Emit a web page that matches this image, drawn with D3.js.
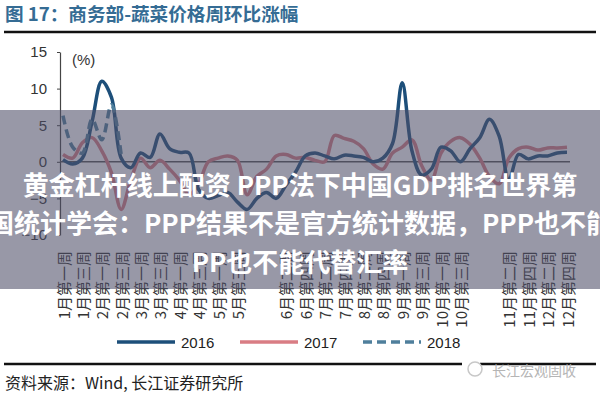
<!DOCTYPE html>
<html><head><meta charset="utf-8">
<script src="https://cdn.jsdelivr.net/npm/d3@7"></script>
<style>body{margin:0;background:#fff} svg{display:block}</style>
</head><body><svg id="c" width="600" height="400"></svg>
<script>
// ---- data ----
const titleText = "图 17：商务部-蔬菜价格周环比涨幅";
const sourceText = "资料来源：Wind, 长江证券研究所";
const watermarkText = "长江宏观固收";
const seriesNames = ["2016", "2017", "2018"];
const weekCount = 53;
const tickIdx = [0,2,4,6,8,10,12,14,16,18, 23,25,27,29,31,33,35,37,39,41, 46,48,50,52];
const tickLabels = ["1月第一周","1月第三周","2月第一周","2月第三周","3月第一周","3月第三周","4月第一周","4月第三周","5月第一周","5月第三周",
  "6月第二周","6月第四周","7月第二周","7月第四周","8月第二周","8月第四周","9月第一周","9月第三周","10月第一周","10月第三周",
  "11月第二周","11月第四周","12月第二周","12月第四周"];
const yTicks = [15, 10, 5, 0, -5, -10];
const s2016 = [0.3,-0.3,0.5,5.5,11.0,8.8,0.5,-0.8,1.2,0.6,3.8,1.8,1.3,1.2,-3.8,-5.0,-4.6,-4.2,-5.5,-6.5,-5.0,-4.2,-5.0,-3.2,-1.4,0.8,1.2,0.8,0.4,0.9,0.8,0.6,0.0,0.5,2.5,10.8,1.5,-1.8,-1.0,2.0,1.5,0.0,1.8,3.3,5.8,3.5,-2.5,1.0,0.4,0.8,0.8,1.2,1.3];
const s2017 = [1.0,0.5,2.6,3.3,1.5,-1.5,-6.5,-2.5,0.5,-0.8,0.2,-1.0,-2.5,-4.5,-3.0,0.0,0.5,0.8,0.2,-4.5,-2.0,-1.0,0.8,1.0,0.5,0.6,0.2,0.0,3.6,3.2,2.8,1.8,-0.3,-1.0,1.2,2.0,3.0,-0.5,-2.5,1.2,2.8,3.3,2.4,0.5,-2.0,-3.0,0.5,1.8,2.0,1.6,1.9,1.9,2.0];
const s2018 = [6.3,2.0,1.2,5.8,3.0,7.8,1.0];
const bannerLines = ["黄金杠杆线上配资 PPP法下中国GDP排名世界第", "国统计学会：PPP结果不是官方统计数据，PPP也不能", "PP也不能代替汇率"];

// ---- chart ----
const svg = d3.select("#c");
const font = "'Liberation Sans', Arial, 'Noto Sans CJK SC', sans-serif";
const cjk = "'Noto Sans CJK SC', sans-serif";
const colors = {"2016": "#1d4f7a", "2017": "#d97d84", "2018": "#4f7f9c"};

svg.append("text").attr("x", 5).attr("y", 21).text(titleText)
  .attr("font-family", cjk).attr("font-size", 18.6).attr("font-weight", "bold").attr("fill", "#356c94");
svg.append("line").attr("x1", 4).attr("x2", 596).attr("y1", 32).attr("y2", 32).attr("stroke", "#111").attr("stroke-width", 2.5);

const x = d3.scalePoint().domain(d3.range(weekCount)).range([63, 567]);
const y = d3.scaleLinear().domain([-10, 15]).range([235, 52]);

const yAxis = svg.append("g").attr("transform", "translate(60,0)")
  .call(d3.axisLeft(y).tickValues(yTicks).tickSize(3).tickPadding(10).tickSizeOuter(0));
yAxis.select(".domain").attr("stroke", "#444").attr("stroke-width", 1.2);
yAxis.selectAll(".tick line").attr("stroke", "#444");
yAxis.selectAll(".tick text").attr("font-family", font).attr("font-size", 15).attr("fill", "#333");

svg.append("text").attr("x", 72).attr("y", 65).text("(%)")
  .attr("font-family", font).attr("font-size", 15).attr("fill", "#333");

svg.append("line").attr("x1", 60).attr("x2", 570).attr("y1", y(0)).attr("y2", y(0))
  .attr("stroke", "#555").attr("stroke-width", 1.5);

const xg = svg.append("g");
xg.selectAll("text").data(tickIdx).join("text")
  .attr("transform", d => `translate(${x(d)},251) rotate(-90)`)
  .attr("text-anchor", "end").attr("dominant-baseline", "central")
  .attr("font-family", cjk).attr("font-size", 15).attr("fill", "#333")
  .text((d, i) => tickLabels[i]);

const line = d3.line().x((d, i) => x(i)).y(d => y(d)).curve(d3.curveCatmullRom.alpha(0.5));
svg.append("path").datum(s2017).attr("d", line).attr("fill", "none")
  .attr("stroke", colors["2017"]).attr("stroke-width", 3.5).attr("stroke-linejoin", "round");
svg.append("path").datum(s2016).attr("d", line).attr("fill", "none")
  .attr("stroke", colors["2016"]).attr("stroke-width", 3.5).attr("stroke-linejoin", "round");
svg.append("path").datum(s2018).attr("d", line).attr("fill", "none")
  .attr("stroke", colors["2018"]).attr("stroke-width", 3.5).attr("stroke-dasharray", "9,5");

// legend
const legX = [117, 240, 363];
seriesNames.forEach((n, i) => {
  svg.append("line").attr("x1", legX[i]).attr("x2", legX[i] + 58).attr("y1", 342).attr("y2", 342)
    .attr("stroke", colors[n]).attr("stroke-width", 3.5).attr("stroke-dasharray", n === "2018" ? "9,5" : null);
  svg.append("text").attr("x", legX[i] + 64).attr("y", 342).attr("dominant-baseline", "central")
    .attr("font-family", font).attr("font-size", 15).attr("fill", "#222").text(n);
});

svg.append("line").attr("x1", 4).attr("x2", 462).attr("y1", 364).attr("y2", 364).attr("stroke", "#111").attr("stroke-width", 2.5);
svg.append("line").attr("x1", 480).attr("x2", 596).attr("y1", 364).attr("y2", 364).attr("stroke", "#111").attr("stroke-width", 2.5);
svg.append("text").attr("x", 5).attr("y", 382).attr("dominant-baseline", "central").text(sourceText)
  .attr("font-family", cjk).attr("font-size", 16).attr("fill", "#222");
svg.append("text").attr("x", 492).attr("y", 370).attr("dominant-baseline", "central").text(watermarkText)
  .attr("font-family", cjk).attr("font-size", 14).attr("fill", "#b5b5b5");
svg.append("circle").attr("cx", 475).attr("cy", 369).attr("r", 7).attr("fill", "none").attr("stroke", "#c8c8c8").attr("stroke-width", 1.5);

// overlay banner
svg.append("rect").attr("x", 0).attr("y", 110).attr("width", 600).attr("height", 179)
  .attr("fill", "#4e4e68").attr("fill-opacity", 0.58);
const by = [183, 221, 260];
bannerLines.forEach((t, i) => {
  svg.append("text").attr("x", 300).attr("y", by[i]).attr("text-anchor", "middle").attr("dominant-baseline", "central")
    .attr("font-family", cjk).attr("font-size", 26).attr("font-weight", "bold").attr("fill", "#fff").text(t);
});
</script></body></html>
